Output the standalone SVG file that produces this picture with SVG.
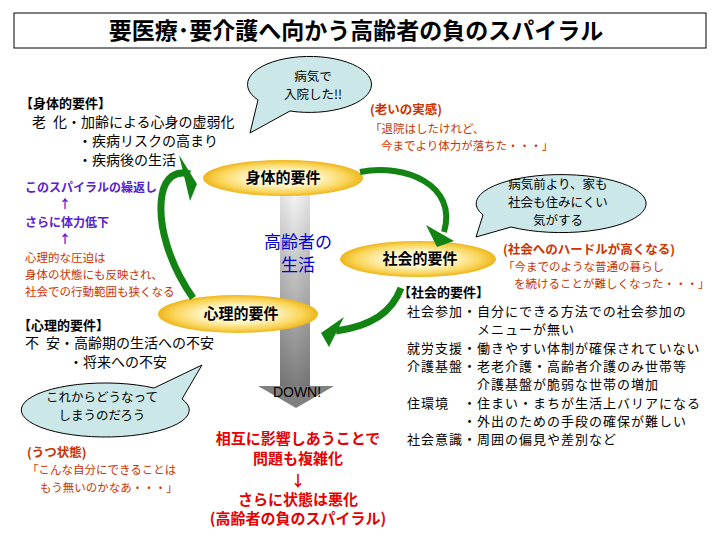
<svg xmlns="http://www.w3.org/2000/svg" width="720" height="540" viewBox="0 0 720 540">
<defs>
<radialGradient id="gold" cx="50%" cy="50%" r="50%">
<stop offset="0" stop-color="#FFFFFF"/>
<stop offset="0.45" stop-color="#FFF5C4"/>
<stop offset="0.8" stop-color="#FAD55A"/>
<stop offset="1" stop-color="#EDB61C"/>
</radialGradient>
<linearGradient id="bar" x1="0" y1="0" x2="0" y2="1">
<stop offset="0" stop-color="#F6F6F6"/>
<stop offset="1" stop-color="#7C7C7C"/>
</linearGradient>
<linearGradient id="barh" x1="0" y1="0" x2="1" y2="0">
<stop offset="0" stop-color="#000" stop-opacity="0.08"/>
<stop offset="0.5" stop-color="#000" stop-opacity="0"/>
<stop offset="1" stop-color="#000" stop-opacity="0.08"/>
</linearGradient>
<style>
text{font-family:"Noto Sans CJK JP","Noto Sans CJK SC",sans-serif;}
.t14{font-size:14px;fill:#000;}
.t13{font-size:13px;letter-spacing:1px;fill:#000;}
.h13{font-size:13px;font-weight:bold;fill:#000;}
.lab{font-size:15px;font-weight:bold;fill:#000;text-anchor:middle;}
.bub{fill:#CBE7E7;stroke:#000;stroke-width:1;}
.bt{font-size:12.5px;fill:#000;text-anchor:middle;}
.rh{font-size:12.5px;font-weight:bold;fill:#CC3300;}
.rt{font-size:11.5px;fill:#CC3300;}
.pu{font-size:12px;font-weight:bold;fill:#5A22CC;}
.node{fill:url(#gold);}
.shaft{fill:none;stroke:#138413;stroke-linecap:butt;}
.head{fill:#138413;}
.red{font-size:15px;font-weight:bold;fill:#E60000;text-anchor:middle;}
</style>
</defs>
<rect width="720" height="540" fill="#FFFFFF"/>

<g id="title">
<rect x="14" y="13" width="692" height="35" fill="#FFFFFF" stroke="#000" stroke-width="1"/>
<text x="356" y="39" font-size="23" font-weight="bold" text-anchor="middle" fill="#000">要医療･要介護へ向かう高齢者の負のスパイラル</text>
</g>

<g id="life-arrow">
<rect x="280" y="190" width="30" height="197" fill="url(#bar)"/>
<rect x="280" y="190" width="30" height="197" fill="url(#barh)"/>
<polygon points="258,386 334,386 296,408" fill="#808080"/>
<text x="297" y="397" font-size="14" text-anchor="middle" fill="#000" style="font-family:'Liberation Sans',Arial,sans-serif">DOWN!</text>
<text x="298" y="248" font-size="17" fill="#0000CC" text-anchor="middle">高齢者の</text>
<text x="298" y="271" font-size="17" fill="#0000CC" text-anchor="middle">生活</text>
</g>

<g id="bubble-hospital">
<path class="bub" d="M290,111 A62,28 0 1 0 258,100 L250,133 Z"/>
<text class="bt" x="313" y="81">病気で</text>
<text class="bt" x="313" y="99">入院した!!</text>
</g>

<g id="bubble-society">
<path class="bub" d="M511,227 A85,29 0 1 0 483,215 L476,237 Z"/>
<text class="bt" x="558" y="189" font-size="13">病気前より、家も</text>
<text class="bt" x="558" y="207">社会も住みにくい</text>
<text class="bt" x="558" y="225">気がする</text>
</g>

<g id="bubble-anxiety">
<path class="bub" d="M182,399 A84,27 0 1 1 154,388 L202,365 Z"/>
<text class="bt" x="102" y="402">これからどうなって</text>
<text class="bt" x="102" y="420">しまうのだろう</text>
</g>

<g id="node-physical">
<ellipse class="node" cx="283" cy="178" rx="80" ry="18"/>
<text class="lab" x="283" y="183">身体的要件</text>
</g>
<g id="node-social">
<ellipse class="node" cx="418" cy="259" rx="78" ry="18"/>
<text class="lab" x="420" y="264">社会的要件</text>
</g>
<g id="node-psych">
<ellipse class="node" cx="238" cy="314" rx="80" ry="19"/>
<text class="lab" x="241" y="319">心理的要件</text>
</g>

<g id="connectors">
<path class="shaft" stroke-width="7" d="M193,298 C170,265 157,225 162,195 C165,178 175,170 190,174"/>
<polygon class="head" points="179,155 197,184 190,201"/>
<path class="shaft" stroke-width="6" d="M360,172 C405,163 458,185 444,232"/>
<polygon class="head" points="426,225 454,241 437,247"/>
<path class="shaft" stroke-width="7" d="M401,288 C392,312 372,326 336,331"/>
<polygon class="head" points="344,317 329,347 321,333"/>
</g>

<g id="physical-factors">
<text class="h13" x="20" y="108">【身体的要件】</text>
<text class="t14" x="32" y="127">老&#x2002;化・加齢による心身の虚弱化</text>
<text class="t14" x="78" y="146">・疾病リスクの高まり</text>
<text class="t14" x="78" y="165">・疾病後の生活</text>
</g>

<g id="aging-feeling">
<text class="rh" x="370" y="114">(老いの実感)</text>
<text class="rt" x="370" y="133">「退院はしたけれど、</text>
<text class="rt" x="381" y="150">今までより体力が落ちた・・・」</text>
</g>

<g id="spiral-note">
<text class="pu" x="25" y="192">このスパイラルの繰返し</text>
<text class="pu" x="65" y="209" text-anchor="middle">↑</text>
<text class="pu" x="25" y="227">さらに体力低下</text>
<text class="pu" x="65" y="244" text-anchor="middle">↑</text>
<text class="rt" x="25" y="262" font-size="12">心理的な圧迫は</text>
<text class="rt" x="25" y="279" font-size="12">身体の状態にも反映され、</text>
<text class="rt" x="25" y="296" font-size="12">社会での行動範囲も狭くなる</text>
</g>

<g id="social-hurdle">
<text class="rh" x="503" y="254">(社会へのハードルが高くなる)</text>
<text class="rt" x="503" y="271">「今までのような普通の暮らし</text>
<text class="rt" x="514" y="288">を続けることが難しくなった・・・」</text>
</g>

<g id="social-factors">
<text class="h13" x="398" y="297">【社会的要件】</text>
<text class="t13" x="407" y="316">社会参加・自分にできる方法での社会参加の</text>
<text class="t13" x="477" y="334">メニューが無い</text>
<text class="t13" x="407" y="352.5">就労支援・働きやすい体制が確保されていない</text>
<text class="t13" x="407" y="371">介護基盤・老老介護・高齢者介護のみ世帯等</text>
<text class="t13" x="477" y="389">介護基盤が脆弱な世帯の増加</text>
<text class="t13" x="407" y="407.5">住環境　・住まい・まちが生活上バリアになる</text>
<text class="t13" x="463" y="426">・外出のための手段の確保が難しい</text>
<text class="t13" x="407" y="444">社会意識・周囲の偏見や差別など</text>
</g>

<g id="psych-factors">
<text class="h13" x="18" y="330">【心理的要件】</text>
<text class="t14" x="25" y="348">不&#x2002;安・高齢期の生活への不安</text>
<text class="t14" x="69" y="367">・将来への不安</text>
</g>

<g id="depression">
<text class="rh" x="27" y="457" font-size="12">(うつ状態)</text>
<text class="rt" x="27" y="474">「こんな自分にできることは</text>
<text class="rt" x="40" y="492">もう無いのかなあ・・・」</text>
</g>

<g id="conclusion">
<text class="red" x="298" y="444">相互に影響しあうことで</text>
<text class="red" x="298" y="464">問題も複雑化</text>
<text class="red" x="298" y="486">↓</text>
<text class="red" x="298" y="505">さらに状態は悪化</text>
<text class="red" x="298" y="524">(高齢者の負のスパイラル)</text>
</g>
</svg>
